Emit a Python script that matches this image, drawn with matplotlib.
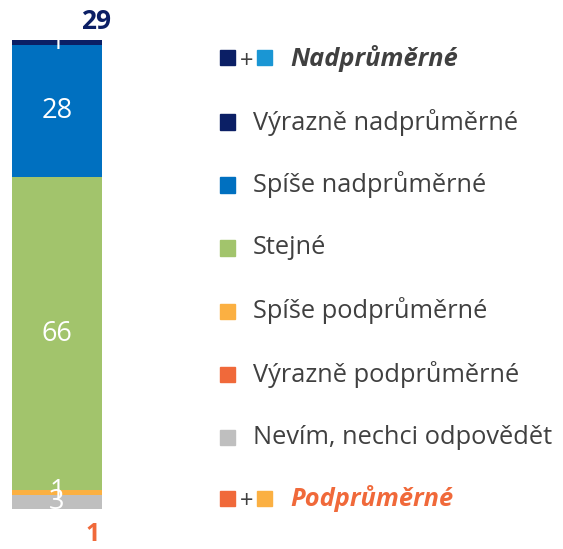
import matplotlib
matplotlib.use("Agg")
import matplotlib.pyplot as plt
from matplotlib.patches import Rectangle

plt.rcParams['font.family'] = ['Open Sans', 'DejaVu Sans']

# data (od spodu nahoru)
categories = ['Nevím, nechci odpovědět', 'Výrazně podprůměrné', 'Spíše podprůměrné',
              'Stejné', 'Spíše nadprůměrné', 'Výrazně nadprůměrné']
values = [3, 0, 1, 66, 28, 1]
colors = ['#bfbfbf', '#f0693a', '#fbb042', '#a2c46c', '#0070c0', '#0b1f65']
top_sum = 29
bottom_sum = 1

W, H = 563, 549
fig = plt.figure(figsize=(W / 100, H / 100), dpi=100)

# osa se sloupcem
ax = fig.add_axes([12 / W, (H - 509) / H, 90 / W, 469 / H])
bottom = 0
for v, c in zip(values, colors):
    ax.bar(0, v, bottom=bottom, width=1, color=c, edgecolor='none')
    if v > 0:
        ax.text(0, bottom + v / 2, str(v), ha='center', va='center',
                color='white', fontsize=19.5)
    bottom += v
ax.set_xlim(-0.5, 0.5)
ax.set_ylim(0, bottom)
ax.axis('off')

# součty
ax.text(0.43, bottom + 4, str(top_sum), ha='center', va='center',
        color='#0b1f65', fontsize=19, fontweight='bold', clip_on=False)
ax.text(0.4, -5.4, str(bottom_sum), ha='center', va='center',
        color='#f0693a', fontsize=18, fontweight='bold', clip_on=False)

# legenda
def fy(y):
    return (H - y) / H

def square(x, y, c, s=15):
    fig.patches.append(Rectangle((x / W, fy(y + s / 2)), s / W, s / H,
                                 transform=fig.transFigure, color=c))

legend_rows = ['Výrazně nadprůměrné', 'Spíše nadprůměrné', 'Stejné',
               'Spíše podprůměrné', 'Výrazně podprůměrné', 'Nevím, nechci odpovědět']
legend_colors = ['#0b1f65', '#0070c0', '#a2c46c', '#fbb042', '#f0693a', '#bfbfbf']
row_y = [122, 185, 248, 311, 374, 437]

for lab, c, y in zip(legend_rows, legend_colors, row_y):
    square(220, y, c)
    fig.text(253 / W, fy(y), lab, ha='left', va='center', color='#404040', fontsize=18.3)

# souhrnné řádky
for y, c1, c2, lab, tc in [(58, '#0b1f65', '#1a96d4', 'Nadprůměrné', '#404040'),
                           (498, '#f0693a', '#fbb042', 'Podprůměrné', '#f0693a')]:
    square(220, y, c1)
    fig.text(247 / W, fy(y + 4), '+', ha='center', va='center', color='#404040', fontsize=17)
    square(257, y, c2)
    fig.text(290 / W, fy(y), lab, ha='left', va='center', color=tc, fontsize=18.3,
             fontweight='bold', fontstyle='italic')

fig.savefig('out.png', dpi=100)
